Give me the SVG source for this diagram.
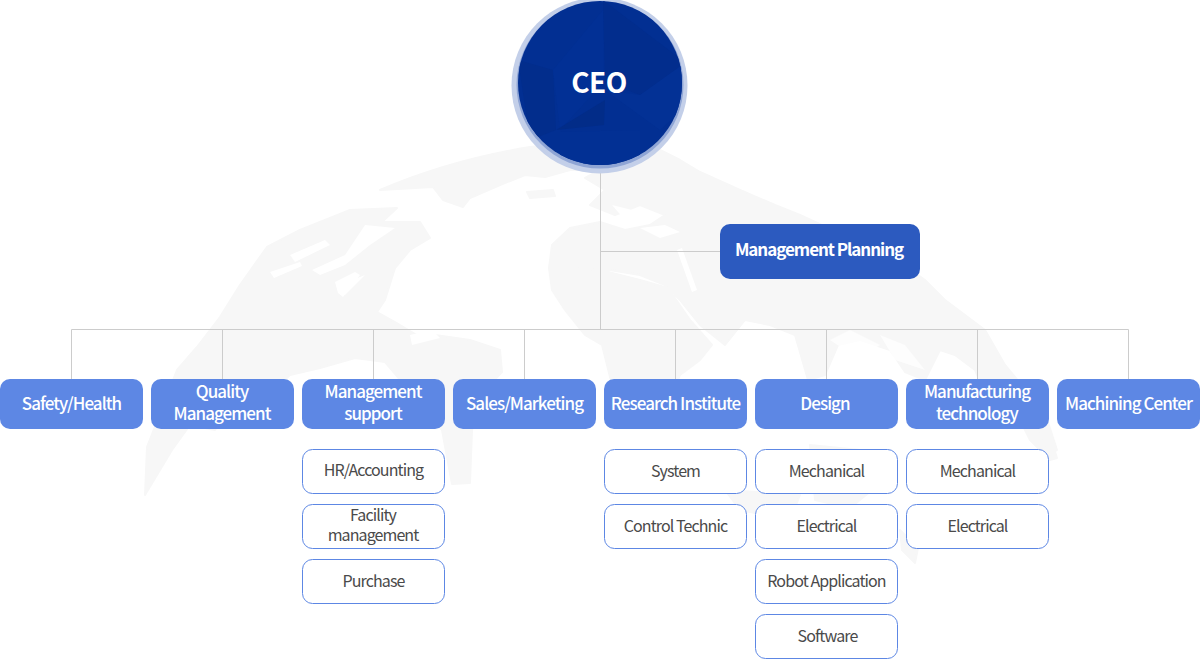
<svg xmlns="http://www.w3.org/2000/svg" width="1200" height="659" viewBox="0 0 1200 659">
<style>
text{font-family:"Noto Sans CJK KR","Noto Sans",sans-serif;text-anchor:middle}
.land{fill:#f7f7f7;stroke:#f7f7f7;stroke-width:2;stroke-linejoin:round}
.hole{fill:#fff}
.conn{fill:none;stroke:#ccc;stroke-width:1}
.dept rect{fill:#5d87e4}
.dept text{fill:#fff;font-size:17px;font-weight:500;letter-spacing:-.95px}
.sub rect{fill:#fff;stroke:#5d87e4;stroke-width:1}
.sub text{fill:#4a4a4a;font-size:16px;font-weight:400;letter-spacing:-.9px}
</style>
<defs><clipPath id="c"><circle cx="600" cy="83" r="82"/></clipPath></defs>
<g id="world-map">
<path class="land" d="M380 190Q450 160 530 147L600 140L650 145L680 160L700 172L740 190L775 205L800 215L850 238L900 262L925 280L945 300L985 330L1005 365L1030 395L1048 430L1057 458L1050 460L1030 440L1020 420L1000 408L985 395L975 370L955 355L940 350L925 380L905 372L890 350L860 340L838 345L825 375L808 380L795 335L770 325L745 320L725 345L700 325L680 300L665 285L640 275L610 270L590 280L570 270L549 268L552 245L570 228L600 222L625 230L650 225L665 215L640 205L615 215L590 205L605 190L585 178L600 170L570 170L545 177L525 175L500 185L470 198L463 207L443 200L433 187Z"/>
<path class="land" d="M549 268L570 268L600 270L640 280L668 288L690 320L712 345L700 360L680 375L672 395L650 425L625 425L612 385L602 345L585 335L565 310L552 290Z"/>
<path class="land" d="M267 247L300 230L350 210L397 208L382 222L420 222L430 238L410 250L395 268L385 300L377 312L395 322L420 337L435 335L470 340L500 350L502 372L480 395L472 430L470 483L452 484L442 430L410 395L402 382L385 362L355 358L320 368L290 375L262 400L240 395L215 430L190 425L172 450L145 495L147 447L177 370L197 347L220 317L240 285Z"/>
<path class="land" d="M1030 383L1044 410L1057 450L1050 455L1035 420Z"/>
<path class="land" d="M527 192L553 190L555 196L530 198Z"/>
<path class="land" d="M810 445L860 450L872 490L850 508L815 500Z"/>
<path class="land" d="M725 490L800 495L790 520L740 510Z"/>
<path class="land" d="M900 530L918 548L915 563L902 550Z"/>
<path class="hole" d="M312 270L345 255L365 225L395 228L370 245L345 265L320 275Z"/>
<path class="hole" d="M340 285L365 275L345 295Z"/>
<path class="hole" d="M290 255L325 240L330 245L295 262Z"/>
<path class="hole" d="M270 272L300 262L302 266L274 278Z"/>
<path class="hole" d="M335 282L355 272L360 275L343 297L338 293Z"/>
<path class="hole" d="M640 228L665 225L680 232L660 238Z"/>
<path class="hole" d="M612 205L640 212L625 220Z"/>
<path class="hole" d="M677 250L682 248L697 290L692 292Z"/>
<path class="hole" d="M745 322L755 325L760 350L750 345Z"/>
<path class="hole" d="M410 335L432 330L440 338L412 345Z"/>
<path class="hole" d="M830 340L850 330L880 345L860 360Z" opacity=".7"/>
<path class="hole" d="M880 335L905 345L925 370L895 360Z" opacity=".7"/>
</g>
<g id="connectors" class="conn">
<path d="M600.500 165V329.500M600.500 251.500H720M71.500 379V329.500H1128.500V379M222.500 329.500V379M373.500 329.500V379M524.500 329.500V379M675.500 329.500V379M826.500 329.500V379M977.500 329.500V379"/>
</g>
<g id="ceo">
<circle cx="599.500" cy="85.500" r="88" fill="#c3cfe9"/>
<circle cx="600" cy="85" r="83.500" fill="#8fa5d5"/>
<circle cx="600" cy="83" r="82" fill="#022f92"/>
<g clip-path="url(#c)">
<path d="M603 0L682 60L682 70L640 95L605 82Z" fill="#022d8d"/>
<path d="M518 60L553 70L556 130L530 140Z" fill="#022d8c"/>
<path d="M553 70L603 10L604 82L560 130Z" fill="#023095"/>
<path d="M640 95L682 65L682 110L660 130L605 90Z" fill="#033195"/>
<path d="M556 130L605 100L604 125Z" fill="#022c88"/>
<path d="M560 132L640 130L640 160L600 170L560 160Z" fill="#023094"/>
</g>
<text x="599" y="93" fill="#fff" style="font-size:28px;font-weight:700;letter-spacing:-.6px">CEO</text>
</g>
<g id="management-planning">
<rect x="720" y="224" width="200" height="55" rx="10" fill="#2c5abf"/>
<text x="819" y="256" fill="#fff" style="font-size:17px;font-weight:700;letter-spacing:-1.05px">Management Planning</text>
</g>
<g id="safety-health" class="dept"><rect x="0" y="379" width="143" height="50" rx="10"/><text x="71.500" y="410">Safety/Health</text></g>
<g id="quality-management" class="dept"><rect x="151" y="379" width="143" height="50" rx="10"/><text x="222" y="398">Quality</text><text x="222" y="420">Management</text></g>
<g id="management-support" class="dept"><rect x="302" y="379" width="143" height="50" rx="10"/><text x="373" y="398">Management</text><text x="373" y="420">support</text></g>
<g id="sales-marketing" class="dept"><rect x="453" y="379" width="143" height="50" rx="10"/><text x="524.500" y="410">Sales/Marketing</text></g>
<g id="research-institute" class="dept"><rect x="604" y="379" width="143" height="50" rx="10"/><text x="675.500" y="410">Research Institute</text></g>
<g id="design" class="dept"><rect x="755" y="379" width="143" height="50" rx="10"/><text x="825" y="410">Design</text></g>
<g id="manufacturing-technology" class="dept"><rect x="906" y="379" width="143" height="50" rx="10"/><text x="977" y="398">Manufacturing</text><text x="977" y="420">technology</text></g>
<g id="machining-center" class="dept"><rect x="1057" y="379" width="143" height="50" rx="10"/><text x="1128.500" y="410">Machining Center</text></g>
<g id="hr-accounting" class="sub"><rect x="302.500" y="449.500" width="142" height="44" rx="10"/><text x="373.500" y="476">HR/Accounting</text></g>
<g id="facility-management" class="sub"><rect x="302.500" y="504.500" width="142" height="44" rx="10"/><text x="373" y="521">Facility</text><text x="373" y="541">management</text></g>
<g id="purchase" class="sub"><rect x="302.500" y="559.500" width="142" height="44" rx="10"/><text x="373.500" y="587">Purchase</text></g>
<g id="system" class="sub"><rect x="604.500" y="449.500" width="142" height="44" rx="10"/><text x="675.500" y="477">System</text></g>
<g id="control-technic" class="sub"><rect x="604.500" y="504.500" width="142" height="44" rx="10"/><text x="675.500" y="532">Control Technic</text></g>
<g id="design-mechanical" class="sub"><rect x="755.500" y="449.500" width="142" height="44" rx="10"/><text x="826.500" y="477">Mechanical</text></g>
<g id="design-electrical" class="sub"><rect x="755.500" y="504.500" width="142" height="44" rx="10"/><text x="826.500" y="532">Electrical</text></g>
<g id="robot-application" class="sub"><rect x="755.500" y="559.500" width="142" height="44" rx="10"/><text x="826.500" y="587">Robot Application</text></g>
<g id="software" class="sub"><rect x="755.500" y="614.500" width="142" height="44" rx="10"/><text x="827.500" y="642">Software</text></g>
<g id="mfg-mechanical" class="sub"><rect x="906.500" y="449.500" width="142" height="44" rx="10"/><text x="977.500" y="477">Mechanical</text></g>
<g id="mfg-electrical" class="sub"><rect x="906.500" y="504.500" width="142" height="44" rx="10"/><text x="977.500" y="532">Electrical</text></g>
</svg>
